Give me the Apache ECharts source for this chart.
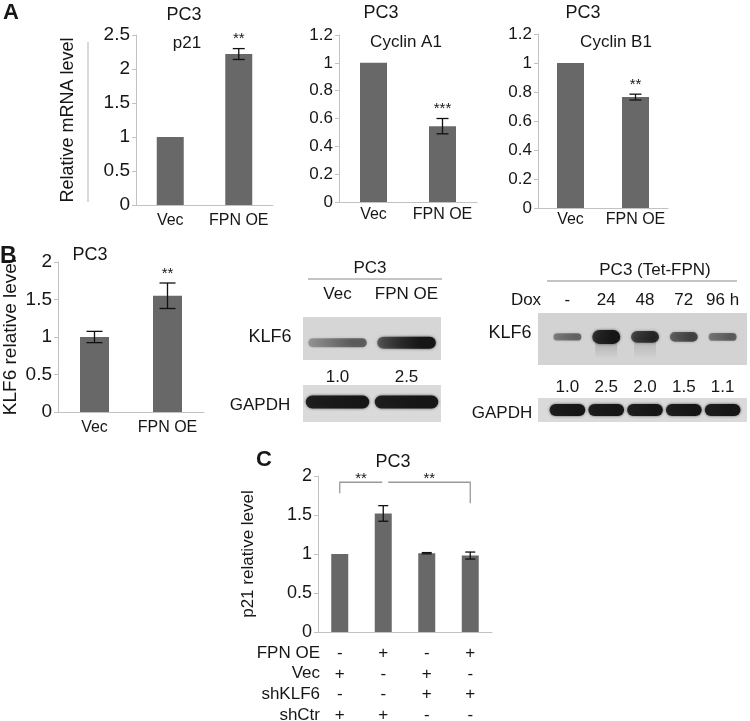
<!DOCTYPE html>
<html>
<head>
<meta charset="utf-8">
<script src="https://cdn.jsdelivr.net/npm/echarts@6/dist/echarts.min.js"></script>
<style>
  html, body { margin: 0; background: #fff; }
  #main { width: 750px; height: 721px; }
</style>
</head>
<body>
<div id="main"></div>
<script>
// ---------- data ----------
const groupsAB = ['Vec', 'FPN OE'];
const p21Mrna = [1, 2.22];
const p21MrnaErr = [0, 0.08];
const p21MrnaSig = ['', '**'];
const cycA1 = [1, 0.545];
const cycA1Err = [0, 0.055];
const cycA1Sig = ['', '***'];
const cycB1 = [1, 0.765];
const cycB1Err = [0, 0.02];
const cycB1Sig = ['', '**'];
const klf6Rel = [1, 1.55];
const klf6RelErr = [0.075, 0.17];
const klf6RelSig = ['', '**'];

const blotLanes = ['Vec', 'FPN OE'];
const blotKlf6 = [1.0, 2.5];
const blotGapdh = [1, 1];
const doxLanes = ['-', '24', '48', '72', '96 h'];
const doxKlf6 = [1.0, 2.5, 2.0, 1.5, 1.1];
const doxGapdh = [1, 1, 1, 1, 1];

const groupsC = ['g1', 'g2', 'g3', 'g4'];
const p21Rel = [1, 1.52, 1.01, 0.98];
const p21RelErr = [0, 0.1, 0.008, 0.045];
const rowNames = ['FPN OE', 'Vec', 'shKLF6', 'shCtr'];
const rowSigns = [
  ['-', '+', '-', '+'],
  ['+', '-', '+', '-'],
  ['-', '-', '+', '+'],
  ['+', '+', '-', '-']
];
const comparisons = [[0, 1, '**'], [1, 3, '**']];

// ---------- look ----------
const FONT = "'Liberation Sans', Arial, sans-serif";
const INK = '#161616';
const AXIS = '#c2c2c2';
const BAR = '#686868';

const chart = echarts.init(document.getElementById('main'));

const grids = [
  { left: 136, top: 35, width: 137, height: 170 },   // A p21
  { left: 339, top: 35, width: 138, height: 167 },   // A cyclin A1
  { left: 538, top: 34, width: 130, height: 174 },   // A cyclin B1
  { left: 58, top: 262, width: 146, height: 150 },   // B
  { left: 318, top: 476, width: 174, height: 156 },  // C
  { left: 303, top: 317, width: 138, height: 43 },   // blot1 KLF6
  { left: 303, top: 385, width: 138, height: 37 },   // blot1 GAPDH
  { left: 548, top: 313, width: 194, height: 52 },   // blot2 KLF6
  { left: 548, top: 398, width: 194, height: 24 }    // blot2 GAPDH
].map(g => Object.assign({ outerBoundsMode: 'none', containLabel: false }, g));

function valueAxis(gi, max, step, fs, name, gap, nfs) {
  return {
    type: 'value', gridIndex: gi, min: 0, max: max, interval: step,
    axisLine: { show: true, lineStyle: { color: AXIS } },
    axisTick: { show: true, length: 4, lineStyle: { color: AXIS } },
    splitLine: { show: false },
    axisLabel: { color: INK, fontSize: fs, fontFamily: FONT, margin: 6 },
    name: name || '', nameLocation: 'middle', nameGap: gap || 0, nameRotate: 90,
    nameTextStyle: { color: INK, fontSize: nfs || 18, fontFamily: FONT }
  };
}
function catAxis(gi, data, fs, margin) {
  return {
    type: 'category', gridIndex: gi, data: data,
    axisLine: { show: true, lineStyle: { color: AXIS } },
    axisTick: { show: false },
    axisLabel: { color: INK, fontSize: fs, fontFamily: FONT, margin: margin, interval: 0 }
  };
}
function blotAxis(gi, data, pos, margin, show) {
  return {
    type: 'category', gridIndex: gi, data: data, position: pos, show: show,
    axisLine: { show: false }, axisTick: { show: false },
    axisLabel: { color: INK, fontSize: 17, fontFamily: FONT, margin: margin, interval: 0 }
  };
}
function hiddenY(gi) {
  return { type: 'value', gridIndex: gi, min: 0, max: 1, show: false };
}

function barSeries(i, vals, w) {
  return {
    type: 'bar', xAxisIndex: i, yAxisIndex: i, data: vals, barWidth: w,
    itemStyle: { color: BAR }, silent: true
  };
}
function errSeries(i, vals, errs, sig, cap) {
  return {
    type: 'custom', xAxisIndex: i, yAxisIndex: i, z: 5, silent: true,
    data: vals.map((v, k) => [k, v, errs[k]]),
    renderItem(params, api) {
      const k = api.value(0), v = api.value(1), e = api.value(2);
      const top = api.coord([k, v + e]);
      const bot = api.coord([k, v - e]);
      const st = { stroke: '#111', lineWidth: 1.3 };
      const kids = [];
      if (e > 0) {
        kids.push({ type: 'line', shape: { x1: top[0], y1: top[1], x2: bot[0], y2: bot[1] }, style: st });
        kids.push({ type: 'line', shape: { x1: top[0] - cap, y1: top[1], x2: top[0] + cap, y2: top[1] }, style: st });
        kids.push({ type: 'line', shape: { x1: bot[0] - cap, y1: bot[1], x2: bot[0] + cap, y2: bot[1] }, style: st });
      }
      const s = sig ? sig[params.dataIndex] : '';
      if (s) {
        kids.push({ type: 'text', x: top[0], y: top[1] - 2,
          style: { text: s, textAlign: 'center', textVerticalAlign: 'bottom', font: '15px ' + FONT, fill: INK } });
      }
      return { type: 'group', children: kids };
    }
  };
}
function bandSeries(xi, yi, vals, look) {
  return {
    type: 'custom', xAxisIndex: xi, yAxisIndex: yi, z: 3, silent: true,
    data: vals.map((v, k) => [k, v]),
    renderItem(params, api) {
      const k = api.value(0), v = api.value(1);
      const c = api.coord([k, look.y]);
      const laneW = api.size([1, 0])[0];
      const t = Math.min(1, v / look.full);
      const w = laneW * look.w;
      const h = look.h0 + look.h1 * t;
      const a = look.a0 + (1 - look.a0) * t;
      const kids = [];
      if (look.smear && v >= 2) {
        kids.push({ type: 'rect', shape: { x: c[0] - w / 2 + 3, y: c[1], width: w - 6, height: look.smear },
          style: { fill: new echarts.graphic.LinearGradient(0, 0, 0, 1, [
            { offset: 0, color: 'rgba(60,60,60,' + (0.3 * t) + ')' },
            { offset: 1, color: 'rgba(60,60,60,0)' }]) } });
      }
      kids.push({ type: 'rect', shape: { x: c[0] - w / 2, y: c[1] - h / 2, width: w, height: h, r: h / 2 },
        style: {
          fill: new echarts.graphic.LinearGradient(0, 0, 1, 0, [
            { offset: 0, color: 'rgba(22,22,22,' + (a * look.fade) + ')' },
            { offset: 0.75, color: 'rgba(22,22,22,' + a + ')' },
            { offset: 1, color: 'rgba(22,22,22,' + a + ')' }]),
          shadowBlur: 3, shadowColor: 'rgba(22,22,22,' + (a * 0.7) + ')'
        } });
      return { type: 'group', children: kids };
    }
  };
}

const bracketSeries = {
  type: 'custom', xAxisIndex: 4, yAxisIndex: 4, z: 5, silent: true,
  data: comparisons.map((c) => [c[0], c[1]]),
  renderItem(params, api) {
    const k = params.dataIndex;
    const a = api.value(0), b = api.value(1);
    const level = 1.92;
    const pa = api.coord([a, level]), pb = api.coord([b, level]);
    let pts;
    if (k === 0) {
      const leg = api.coord([a, 1.78]);
      pts = [[pa[0], leg[1]], [pa[0], pa[1]], [pb[0] - 1, pb[1]]];
    } else {
      const leg = api.coord([b, 1.65]);
      pts = [[pa[0] + 5, pa[1]], [pb[0], pb[1]], [pb[0], leg[1]]];
    }
    const mx = (pts[0][0] + pts[pts.length - 1][0]) / 2;
    return { type: 'group', children: [
      { type: 'polyline', shape: { points: pts }, style: { stroke: '#9a9a9a', lineWidth: 1.3, fill: null } },
      { type: 'text', x: mx, y: pa[1] + 4,
        style: { text: comparisons[k][2], textAlign: 'center', textVerticalAlign: 'bottom', font: '15px ' + FONT, fill: INK } }
    ] };
  }
};

function txt(x, y, s, fs, opt) {
  opt = opt || {};
  return { type: 'text', x: x, y: y, z: 10,
    style: { text: s, font: (opt.bold ? 'bold ' : '') + fs + 'px ' + FONT, fill: INK,
      textAlign: opt.align || 'center', textVerticalAlign: 'middle' } };
}
function box(x, y, w, h, col) {
  return { type: 'rect', z: 0, shape: { x: x, y: y, width: w, height: h }, style: { fill: col } };
}
function hline(x1, x2, y, col) {
  return { type: 'line', z: 1, shape: { x1: x1, y1: y, x2: x2, y2: y }, style: { stroke: col, lineWidth: 1 } };
}

const graphics = [
  txt(3, 13, 'A', 22, { bold: true, align: 'left' }),
  txt(0, 257, 'B', 23, { bold: true, align: 'left' }),
  txt(256, 460, 'C', 22, { bold: true, align: 'left' }),
  txt(184, 15, 'PC3', 18), txt(381, 13, 'PC3', 18), txt(583, 13, 'PC3', 18),
  txt(90, 255, 'PC3', 18), txt(393, 462, 'PC3', 18),
  txt(187, 43, 'p21', 17), txt(406, 42, 'Cyclin A1', 17), txt(616, 42, 'Cyclin B1', 17),
  { type: 'line', z: 1, shape: { x1: 88, y1: 42, x2: 88, y2: 202 }, style: { stroke: '#b5b5b5', lineWidth: 1 } },
  // blot 1
  txt(370, 268, 'PC3', 17), hline(308, 442, 279, '#888'),
  txt(270, 337, 'KLF6', 18), txt(260, 405, 'GAPDH', 17),
  box(303, 317, 138, 43, '#d6d6d6'), box(303, 385, 138, 37, '#dadada'),
  // blot 2
  txt(655, 270, 'PC3 (Tet-FPN)', 17), hline(547, 737, 281, '#888'),
  txt(526, 300, 'Dox', 17), txt(510, 333, 'KLF6', 18), txt(502, 413, 'GAPDH', 17),
  box(538, 313, 209, 52, '#d3d3d3'), box(538, 398, 209, 24, '#dadada')
].concat(rowNames.map((n, k) => txt(320, 653 + 20.7 * k, n, 17, { align: 'right' })));

chart.setOption({
  animation: false,
  backgroundColor: '#fff',
  textStyle: { fontFamily: FONT },
  grid: grids,
  xAxis: [
    catAxis(0, groupsAB, 16, 8),
    catAxis(1, groupsAB, 16, 5),
    catAxis(2, groupsAB, 16, 4),
    catAxis(3, groupsAB, 16, 8),
    Object.assign(catAxis(4, groupsC, 17, 11), {
      axisLabel: { color: INK, fontSize: 17, fontFamily: FONT, margin: 11, interval: 0, lineHeight: 20.7,
        formatter: (v, idx) => rowSigns.map(r => r[idx]).join('\n') }
    }),
    blotAxis(5, blotLanes, 'top', 14, true),
    blotAxis(5, blotKlf6.map(v => v.toFixed(1)), 'bottom', 9, true),
    blotAxis(6, blotLanes, 'bottom', 0, false),
    blotAxis(7, doxLanes, 'top', 4, true),
    blotAxis(7, doxKlf6.map(v => v.toFixed(1)), 'bottom', 14, true),
    blotAxis(8, doxLanes, 'bottom', 0, false)
  ],
  yAxis: [
    valueAxis(0, 2.5, 0.5, 19, 'Relative mRNA level', 59, 18),
    valueAxis(1, 1.2, 0.2, 17),
    valueAxis(2, 1.2, 0.2, 17),
    valueAxis(3, 2, 0.5, 19, 'KLF6 relative level', 38, 19),
    valueAxis(4, 2, 0.5, 18, 'p21 relative level', 61, 17),
    hiddenY(5), hiddenY(6), hiddenY(7), hiddenY(8)
  ],
  graphic: { elements: graphics },
  series: [
    barSeries(0, p21Mrna, 27), errSeries(0, p21Mrna, p21MrnaErr, p21MrnaSig, 6),
    barSeries(1, cycA1, 27), errSeries(1, cycA1, cycA1Err, cycA1Sig, 6),
    barSeries(2, cycB1, 27), errSeries(2, cycB1, cycB1Err, cycB1Sig, 6),
    barSeries(3, klf6Rel, 29), errSeries(3, klf6Rel, klf6RelErr, klf6RelSig, 8),
    barSeries(4, p21Rel, 17), errSeries(4, p21Rel, p21RelErr, null, 5),
    bracketSeries,
    bandSeries(5, 5, blotKlf6, { y: 0.4, full: 2.5, w: 0.85, h0: 7, h1: 5, a0: 0.25, fade: 0.5 }),
    bandSeries(7, 6, blotGapdh, { y: 0.54, full: 1, w: 0.92, h0: 13, h1: 0, a0: 1, fade: 0.9 }),
    bandSeries(8, 7, doxKlf6, { y: 0.54, full: 2.5, w: 0.72, h0: 3, h1: 11, a0: 0.2, fade: 0.75, smear: 22 }),
    bandSeries(10, 8, doxGapdh, { y: 0.5, full: 1, w: 0.92, h0: 12, h1: 0, a0: 1, fade: 0.9 })
  ]
});
</script>
</body>
</html>
